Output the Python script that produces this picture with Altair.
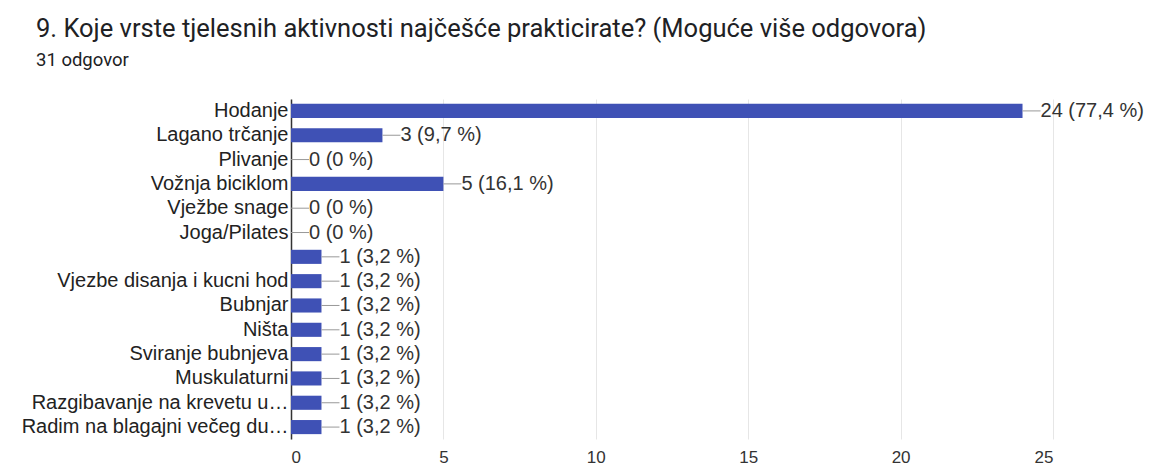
import altair as alt
import pandas as pd

categories = [
    "Hodanje", "Lagano trčanje", "Plivanje", "Vožnja biciklom", "Vježbe snage",
    "Joga/Pilates", " ", "Vjezbe disanja i kucni hod", "Bubnjar", "Ništa",
    "Sviranje bubnjeva", "Muskulaturni", "Razgibavanje na krevetu u…",
    "Radim na blagajni večeg du…",
]
counts = [24, 3, 0, 5, 0, 0, 1, 1, 1, 1, 1, 1, 1, 1]
total = 31
x_ticks = [0, 5, 10, 15, 20, 25]

labels = []
for c in counts:
    pct = f"{c / total * 100:.1f}".replace(".", ",")
    if pct == "0,0":
        pct = "0"
    labels.append(f"{c} ({pct} %)")

df = pd.DataFrame({"cat": categories, "value": counts, "label": labels})

FONT = "Liberation Sans"

x_enc = alt.X("value:Q", scale=alt.Scale(domain=[0, 25], nice=False),
              axis=alt.Axis(values=x_ticks, title=None, domain=False, ticks=False,
                            grid=True, gridColor="#e6e6e6", labelFontSize=17,
                            labelColor="#333333", labelFont=FONT,
                            labelPadding=10))
y_enc = alt.Y("cat:N", sort=categories,
              scale=alt.Scale(paddingInner=0.42, paddingOuter=0.2),
              axis=alt.Axis(title=None, ticks=False, domain=True, domainColor="#333333",
                            domainWidth=1.5, labelFontSize=20, labelColor="#222222",
                            labelFont=FONT, labelPadding=3, labelLimit=400))

base = alt.Chart(df)

bars = base.mark_bar(color="#3f51b5").encode(x=x_enc, y=y_enc)
leader = base.mark_rule(color="#999999", strokeWidth=1, x2Offset=18).encode(
    x="value:Q", x2="value:Q", y=alt.Y("cat:N", sort=categories))
text = base.mark_text(align="left", baseline="middle", dx=18, fontSize=20,
                      font=FONT, color="#333333").encode(
    x="value:Q", y=alt.Y("cat:N", sort=categories), text="label:N")

chart = (bars + leader + text).properties(
    width=762, height=340,
    title=alt.TitleParams(
        text="9. Koje vrste tjelesnih aktivnosti najčešće prakticirate? (Moguće više odgovora)",
        subtitle="31 odgovor", anchor="start", font="Roboto", fontSize=25.5,
        fontWeight="normal", color="#202124", subtitleFont="Roboto",
        subtitleFontSize=18.5, subtitleColor="#202124", subtitlePadding=8,
        offset=30, frame="group", dx=-255),
    padding={"left": 13, "top": 9, "right": 5, "bottom": 0},
).configure_view(stroke=None)

chart.save("out.html", embed_options={"renderer": "svg", "actions": False})
